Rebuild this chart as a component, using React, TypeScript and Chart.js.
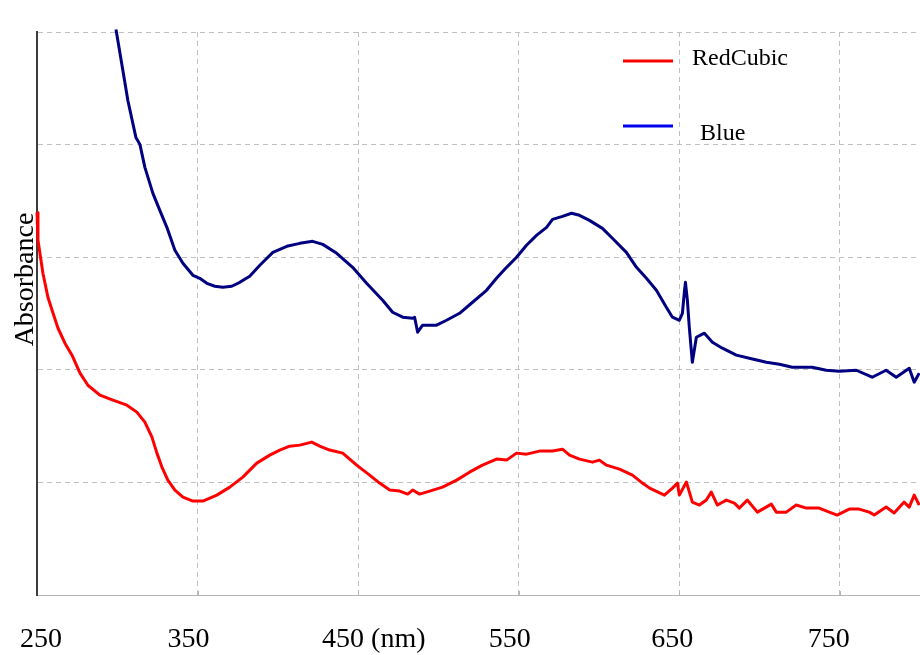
import React, { useEffect, useRef } from "react";
import { Chart, registerables } from "chart.js";

Chart.register(...registerables);

// Absorbance spectra (wavelength in nm, absorbance in arbitrary units)
const redNm = [
  250.0, 250.6, 253.7, 256.8, 260.0, 263.1, 267.4, 271.8, 276.8, 281.7, 289.2, 297.3, 306.0, 312.2,
  317.2, 321.6, 324.7, 327.8, 331.5, 335.9, 340.9, 347.1, 353.3, 362.0, 370.1, 378.2, 386.9, 395.0,
  401.2, 407.4, 413.7, 421.1, 426.1, 432.3, 440.4, 449.1, 457.2, 463.4, 469.7, 475.9, 480.9, 484.0,
  488.3, 494.6, 502.6, 511.4, 519.4, 527.5, 536.2, 542.5, 548.7, 554.9, 563.0, 571.1, 577.3, 581.7,
  587.9, 596.0, 600.3, 604.7, 612.8, 620.9, 627.1, 631.6, 640.8, 645.8, 648.9, 650.1, 654.5, 658.2,
  662.6, 666.9, 670.0, 673.8, 679.4, 684.4, 687.5, 692.4, 698.7, 707.4, 710.5, 716.7, 722.9, 729.2,
  737.2, 743.5, 748.4, 755.9, 762.1, 768.4, 771.5, 778.9, 783.9, 790.1, 793.3, 796.4, 799.5,
];
const redAbs = [
  3.398, 3.15, 2.857, 2.644, 2.502, 2.369, 2.236, 2.13, 1.97, 1.863, 1.775, 1.73, 1.686, 1.624,
  1.535, 1.402, 1.26, 1.136, 1.02, 0.932, 0.87, 0.834, 0.834, 0.887, 0.958, 1.047, 1.171, 1.242,
  1.287, 1.322, 1.331, 1.358, 1.322, 1.287, 1.26, 1.153, 1.065, 0.994, 0.932, 0.923, 0.896, 0.932,
  0.896, 0.923, 0.958, 1.02, 1.091, 1.153, 1.207, 1.198, 1.26, 1.251, 1.278, 1.278, 1.295, 1.242,
  1.207, 1.18, 1.198, 1.153, 1.118, 1.065, 0.994, 0.949, 0.887, 0.949, 0.994, 0.887, 1.003, 0.825,
  0.799, 0.843, 0.914, 0.799, 0.843, 0.816, 0.772, 0.843, 0.736, 0.807, 0.736, 0.736, 0.799, 0.772,
  0.772, 0.736, 0.71, 0.763, 0.763, 0.736, 0.71, 0.781, 0.728, 0.825, 0.781, 0.887, 0.799,
];

const blueNm = [
  299.2, 303.5, 306.6, 311.6, 314.1, 317.2, 322.2, 326.5, 330.9, 335.9, 340.9, 347.1, 351.4, 355.8,
  360.8, 365.7, 371.3, 376.3, 382.5, 388.8, 396.9, 405.6, 413.7, 421.7, 428.0, 436.7, 446.6, 455.3,
  465.3, 471.5, 477.8, 484.0, 485.2, 487.1, 490.2, 498.9, 505.1, 513.2, 521.3, 530.0, 536.2, 542.5,
  548.7, 554.9, 561.1, 567.4, 571.1, 577.3, 582.9, 587.9, 594.1, 602.2, 608.4, 617.1, 623.4, 629.6,
  635.8, 642.0, 645.8, 650.1, 652.0, 653.3, 653.9, 655.1, 656.3, 658.2, 660.7, 665.7, 670.7, 676.9,
  685.6, 693.7, 704.3, 712.4, 720.4, 732.9, 741.6, 749.7, 760.3, 770.2, 778.9, 785.2, 793.3, 796.4,
  799.5,
];
const blueAbs = [
  5.022, 4.658, 4.392, 4.064, 4.002, 3.798, 3.567, 3.416, 3.265, 3.061, 2.946, 2.839, 2.813, 2.768,
  2.742, 2.733, 2.742, 2.777, 2.831, 2.928, 3.043, 3.097, 3.123, 3.141, 3.114, 3.035, 2.91, 2.768,
  2.618, 2.511, 2.467, 2.458, 2.467, 2.334, 2.396, 2.396, 2.44, 2.502, 2.6, 2.706, 2.813, 2.91,
  2.999, 3.106, 3.194, 3.265, 3.336, 3.363, 3.39, 3.372, 3.327, 3.256, 3.168, 3.043, 2.91, 2.813,
  2.706, 2.555, 2.467, 2.44, 2.502, 2.7, 2.777, 2.618, 2.378, 2.067, 2.289, 2.325, 2.245, 2.192,
  2.13, 2.103, 2.067, 2.05, 2.023, 2.023, 1.996, 1.988, 1.996, 1.934, 1.996, 1.934, 2.014, 1.89,
  1.97,
];

const seriesNames = ["RedCubic", "Blue"];
const xTicks = [250, 350, 450, 550, 650, 750];
const xTickLabels = ["250", "350", "450 (nm)", "550", "650", "750"];
const yTicks = [0, 1, 2, 3, 4, 5];
const yTitle = "Absorbance";

const SERIF = '"Liberation Serif", "Times New Roman", serif';
const GRID = "#c0c0c0";

// Draws the wavelength labels, the rotated axis title and the legend
const decorations = {
  id: "decorations",
  afterDraw(chart: any) {
    const { ctx, chartArea, scales } = chart;
    const xs = scales.x;
    ctx.save();

    // short solid tick marks on the bottom axis
    ctx.strokeStyle = "#b4b4b4";
    ctx.lineWidth = 1;
    ctx.beginPath();
    xTicks.slice(1).forEach((v) => {
      const px = Math.round(xs.getPixelForValue(v)) + 0.5;
      ctx.moveTo(px, chartArea.bottom);
      ctx.lineTo(px, chartArea.bottom - 4);
    });
    ctx.stroke();

    // tick labels
    const shifts = [-17, -30, -36, -30, -28, -32];
    ctx.fillStyle = "#000";
    ctx.font = `28px ${SERIF}`;
    ctx.textAlign = "left";
    ctx.textBaseline = "alphabetic";
    xTickLabels.forEach((t, i) => {
      ctx.fillText(t, xs.getPixelForValue(xTicks[i]) + shifts[i], chartArea.bottom + 52);
    });

    // y axis title
    ctx.save();
    ctx.translate(chartArea.left - 4, (chartArea.top + chartArea.bottom) / 2 - 34);
    ctx.rotate(-Math.PI / 2);
    ctx.textAlign = "center";
    ctx.fillText(yTitle, 0, 0);
    ctx.restore();

    // legend
    const legendColors = ["#ff0000", "#0000ee"];
    const rows = [
      { lineY: 61, textX: 692, textY: 65 },
      { lineY: 126, textX: 700, textY: 140 },
    ];
    ctx.font = `24px ${SERIF}`;
    ctx.lineWidth = 3;
    rows.forEach((r, i) => {
      ctx.strokeStyle = legendColors[i];
      ctx.beginPath();
      ctx.moveTo(623, r.lineY);
      ctx.lineTo(673, r.lineY);
      ctx.stroke();
      ctx.fillText(seriesNames[i], r.textX, r.textY);
    });

    ctx.restore();
  },
};

export default function App() {
  const canvasRef = useRef<HTMLCanvasElement | null>(null);

  useEffect(() => {
    const canvas = canvasRef.current;
    if (!canvas) return;

    const chart = new Chart(canvas, {
      type: "line",
      data: {
        datasets: [
          {
            label: seriesNames[0],
            data: redNm.map((x, i) => ({ x, y: redAbs[i] })),
            borderColor: "#ff0000",
            borderWidth: 3,
            pointRadius: 0,
            tension: 0,
            borderJoinStyle: "round",
            clip: false,
          },
          {
            label: seriesNames[1],
            data: blueNm.map((x, i) => ({ x, y: blueAbs[i] })),
            borderColor: "#000080",
            borderWidth: 3,
            pointRadius: 0,
            tension: 0,
            borderJoinStyle: "round",
            clip: false,
          },
        ],
      },
      options: {
        responsive: false,
        animation: false,
        layout: { padding: { left: 37, right: 0, top: 32, bottom: 60 } },
        plugins: {
          legend: { display: false },
          tooltip: { enabled: false },
        },
        scales: {
          x: {
            type: "linear",
            min: 250,
            max: 800,
            afterBuildTicks: (s: any) => {
              s.ticks = xTicks.map((value) => ({ value }));
            },
            afterFit: (s: any) => {
              s.height = 0;
            },
            ticks: { display: false },
            grid: {
              drawTicks: false,
              lineWidth: 1,
              color: (c: any) => (c.tick && c.tick.value === 250 ? "rgba(0,0,0,0)" : GRID),
            },
            border: { display: true, color: "#b4b4b4", width: 1, dash: [5, 4] },
          },
          y: {
            type: "linear",
            min: 0,
            max: 5,
            afterBuildTicks: (s: any) => {
              s.ticks = yTicks.map((value) => ({ value }));
            },
            afterFit: (s: any) => {
              s.width = 0;
            },
            ticks: { display: false },
            grid: {
              drawTicks: false,
              lineWidth: 1,
              color: (c: any) => (c.tick && c.tick.value === 0 ? "rgba(0,0,0,0)" : GRID),
            },
            border: { display: true, color: "#3c3c3c", width: 2, dash: [5, 4] },
          },
        },
      },
      plugins: [decorations],
    });

    return () => chart.destroy();
  }, []);

  return (
    <div style={{ position: "absolute", left: 0, top: 0, width: 920, height: 655, background: "#fff" }}>
      <canvas ref={canvasRef} width={920} height={655} />
    </div>
  );
}
